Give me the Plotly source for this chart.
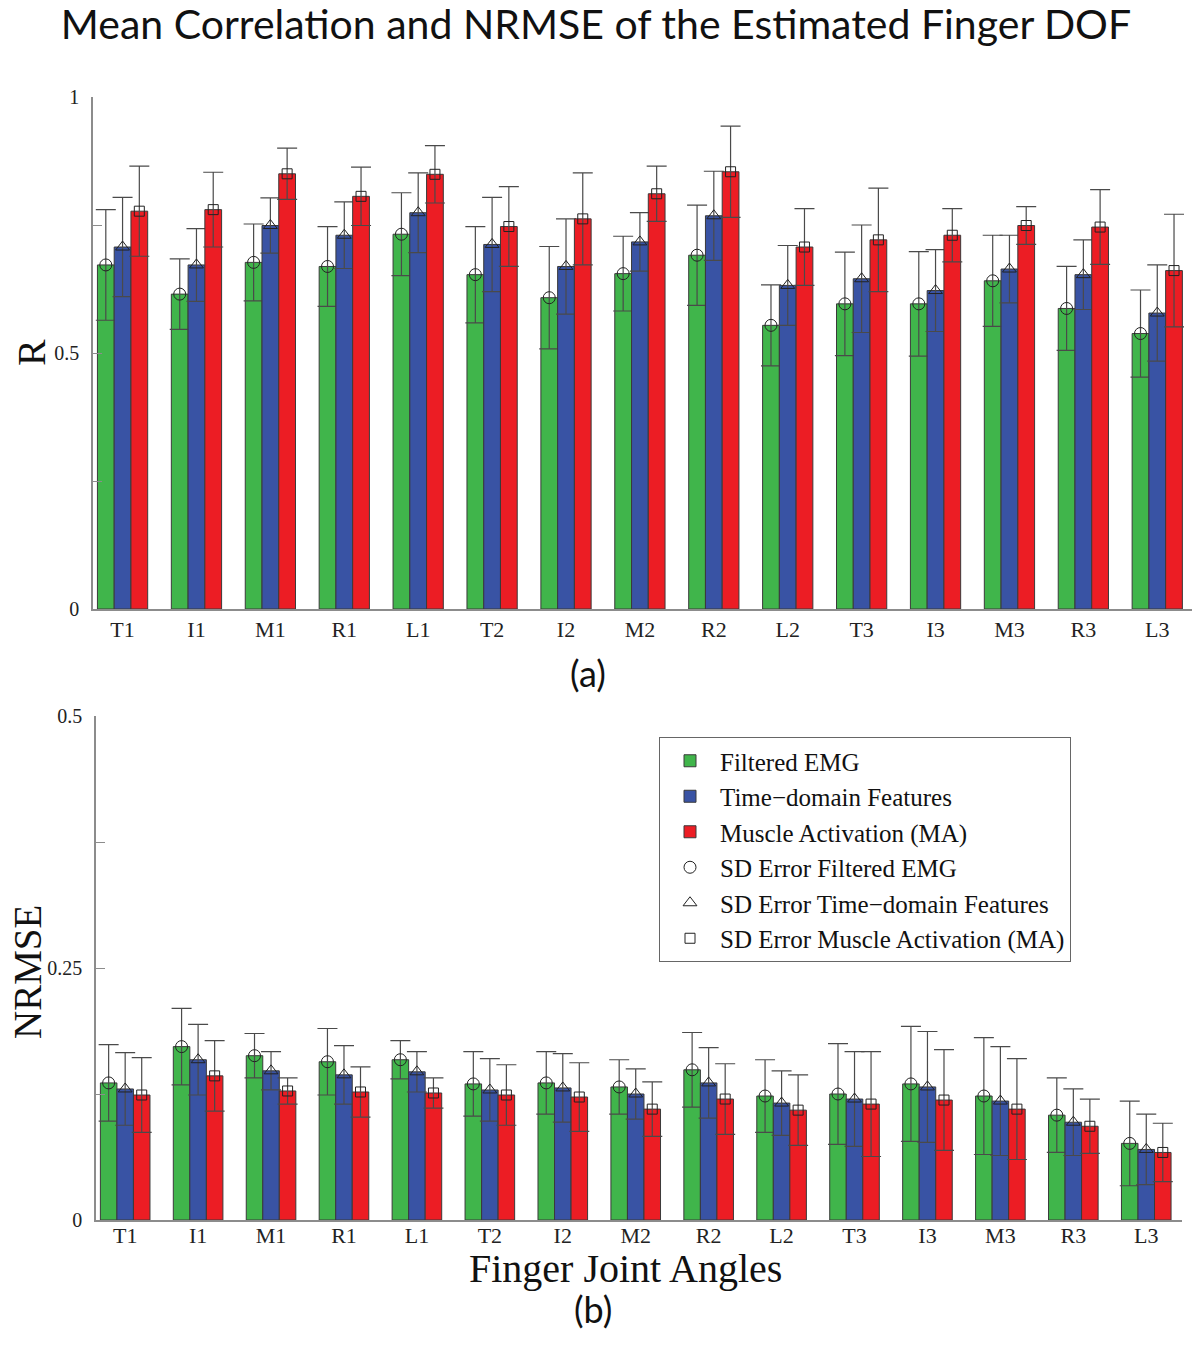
import numpy as np
import plotly.graph_objects as go

# Categories (finger joint angles)
joints = ["T1", "I1", "M1", "R1", "L1", "T2", "I2", "M2", "R2", "L2", "T3", "I3", "M3", "R3", "L3"]

# Mean correlation R (panel a)
r_emg = [0.672, 0.615, 0.677, 0.669, 0.732, 0.653, 0.608, 0.655, 0.691, 0.554, 0.596, 0.596, 0.641, 0.587, 0.538]
r_td  = [0.707, 0.672, 0.749, 0.730, 0.774, 0.712, 0.669, 0.717, 0.768, 0.632, 0.645, 0.622, 0.664, 0.653, 0.578]
r_ma  = [0.777, 0.780, 0.850, 0.806, 0.849, 0.747, 0.762, 0.811, 0.854, 0.707, 0.721, 0.730, 0.749, 0.746, 0.661]
r_emg_sd = [0.108, 0.069, 0.075, 0.078, 0.081, 0.094, 0.100, 0.073, 0.098, 0.079, 0.101, 0.102, 0.089, 0.082, 0.085]
r_td_sd  = [0.097, 0.071, 0.054, 0.065, 0.078, 0.092, 0.093, 0.057, 0.087, 0.078, 0.105, 0.080, 0.066, 0.068, 0.094]
r_ma_sd  = [0.088, 0.073, 0.050, 0.057, 0.056, 0.078, 0.090, 0.054, 0.089, 0.075, 0.101, 0.052, 0.037, 0.073, 0.110]

# Mean NRMSE (panel b)
n_emg = [0.136, 0.172, 0.163, 0.157, 0.159, 0.135, 0.136, 0.132, 0.149, 0.123, 0.125, 0.135, 0.123, 0.104, 0.076]
n_td  = [0.130, 0.159, 0.148, 0.144, 0.147, 0.129, 0.131, 0.125, 0.136, 0.116, 0.120, 0.132, 0.118, 0.097, 0.070]
n_ma  = [0.124, 0.143, 0.128, 0.127, 0.126, 0.124, 0.122, 0.110, 0.120, 0.109, 0.115, 0.119, 0.110, 0.093, 0.067]
n_emg_sd = [0.038, 0.038, 0.022, 0.033, 0.019, 0.032, 0.031, 0.027, 0.037, 0.036, 0.050, 0.057, 0.058, 0.037, 0.042]
n_td_sd  = [0.036, 0.035, 0.019, 0.029, 0.020, 0.031, 0.034, 0.025, 0.035, 0.032, 0.047, 0.055, 0.054, 0.033, 0.035]
n_ma_sd  = [0.037, 0.035, 0.013, 0.025, 0.015, 0.030, 0.034, 0.027, 0.035, 0.035, 0.052, 0.050, 0.050, 0.027, 0.029]

names = ["Filtered EMG", "Time\u2212domain Features", "Muscle Activation (MA)"]
sd_names = ["SD Error Filtered EMG", "SD Error Time\u2212domain Features", "SD Error Muscle Activation (MA)"]
colors = ["#40b54b", "#3953a4", "#ec1d24"]
symbols = ["circle-open", "triangle-up-open", "square-open"]
sizes = [12, 12, 10]

SERIF = "Liberation Serif, Times New Roman, serif"
SANS = "Lato, Open Sans, sans-serif"

# figure size (page has an 8px body margin)
W = 1184
H = 1335
def px_x(p):
  return min(max((p - 8) / W, 0), 1)
def px_y(p):
  return min(max(1 - (p - 8) / H, 0), 1)

bargap = 0.32
bw = (1 - bargap) / 3
x = np.arange(1, len(joints) + 1)

fig = go.Figure()

panels = [
  ("x", "y", [r_emg, r_td, r_ma], [r_emg_sd, r_td_sd, r_ma_sd], False),
  ("x2", "y2", [n_emg, n_td, n_ma], [n_emg_sd, n_td_sd, n_ma_sd], True),
]

# Bars with error bars
for xa, ya, means, sds, leg in panels:
  for i in range(3):
    fig.add_trace(go.Bar(
      x=x, y=means[i], name=names[i], xaxis=xa, yaxis=ya,
      marker=dict(color=colors[i], line=dict(color="#3a3a3a", width=1)),
      error_y=dict(type="data", array=sds[i], visible=True,
                   color="#4a4a4a", thickness=1.2, width=10),
      showlegend=leg, legendrank=i + 1))

# Open markers at bar tops
for xa, ya, means, sds, leg in panels:
  for i in range(3):
    fig.add_trace(go.Scatter(
      x=x + (i - 1) * bw, y=means[i], name=sd_names[i], xaxis=xa, yaxis=ya,
      mode="markers",
      marker=dict(symbol=symbols[i], size=sizes[i], color="#222222", line=dict(width=1)),
      showlegend=leg, legendrank=i + 4))

axis_common = dict(showline=True, linecolor="#8c8c8c", linewidth=1.5, showgrid=False,
                   zeroline=False, automargin=False)
xtickfont = dict(family=SERIF, size=22, color="#222")
ytickfont = dict(family=SERIF, size=20, color="#222")

fig.update_layout(
  width=W, height=H,
  margin=dict(l=0, r=0, t=0, b=0, autoexpand=False),
  plot_bgcolor="white", paper_bgcolor="white",
  barmode="group", bargap=bargap, bargroupgap=0,
  xaxis=dict(domain=[px_x(93), px_x(1192)], range=[0.6, 15.47], anchor="y",
             tickvals=x, ticktext=joints, ticks="", tickfont=xtickfont, **axis_common),
  yaxis=dict(domain=[px_y(609), px_y(97)], range=[0, 1], anchor="x",
             tickvals=[0, 0.25, 0.5, 0.75, 1], ticktext=["0", "", "0.5", "", "1"],
             ticks="inside", ticklen=9, tickcolor="#8c8c8c", ticklabelstandoff=8,
             tickfont=ytickfont, **axis_common),
  xaxis2=dict(domain=[px_x(96), px_x(1182)], range=[0.6, 15.49], anchor="y2",
              tickvals=x, ticktext=joints, ticks="", ticklabelstandoff=-5,
              tickfont=xtickfont, **axis_common),
  yaxis2=dict(domain=[px_y(1220), px_y(716)], range=[0, 0.5], anchor="x2",
              tickvals=[0, 0.125, 0.25, 0.375, 0.5], ticktext=["0", "", "0.25", "", "0.5"],
              ticks="inside", ticklen=9, tickcolor="#8c8c8c", ticklabelstandoff=8,
              tickfont=ytickfont, **axis_common),
  legend=dict(x=px_x(659), y=px_y(737), xanchor="left", yanchor="top",
              bgcolor="white", bordercolor="#666", borderwidth=1,
              font=dict(family=SERIF, size=25, color="#111"),
              itemwidth=50, tracegroupgap=0),
  title=dict(text="Mean Correlation and NRMSE of the Estimated Finger DOF",
             x=px_x(596), xanchor="center", y=px_y(25), yanchor="middle", automargin=False,
             font=dict(family=SANS, size=41, color="#111")),
  annotations=[
    dict(text="R", x=px_x(32), y=px_y(353), xref="paper", yref="paper", showarrow=False,
         textangle=-90, xanchor="center", yanchor="middle",
         font=dict(family=SERIF, size=40, color="#111")),
    dict(text="NRMSE", x=px_x(27), y=px_y(972), xref="paper", yref="paper", showarrow=False,
         textangle=-90, xanchor="center", yanchor="middle",
         font=dict(family=SERIF, size=39, color="#111")),
    dict(text="Finger Joint Angles", x=px_x(625), y=px_y(1268), xref="paper", yref="paper",
         showarrow=False, xanchor="center", yanchor="middle",
         font=dict(family=SERIF, size=40, color="#111")),
    dict(text="(a)", x=px_x(588), y=px_y(673), xref="paper", yref="paper", showarrow=False,
         xanchor="center", yanchor="middle", font=dict(family=SANS, size=36, color="#111")),
    dict(text="(b)", x=px_x(593), y=px_y(1309), xref="paper", yref="paper", showarrow=False,
         xanchor="center", yanchor="middle", font=dict(family=SANS, size=36, color="#111")),
  ],
)

fig.write_html("out.html")
